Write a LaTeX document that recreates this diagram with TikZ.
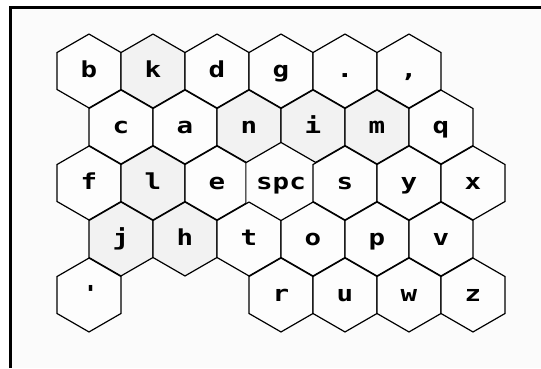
\documentclass[tikz,border=0pt]{standalone}
\usepackage{fontspec}
\newfontfamily\keyfont{DejaVu Sans Mono}[FakeStretch=1.25]
\usetikzlibrary{shapes.geometric}
\definecolor{paper}{HTML}{FBFBFB}
\definecolor{keywhite}{HTML}{FDFDFD}
\definecolor{keygray}{HTML}{F2F2F2}

\begin{document}
\begin{tikzpicture}[x=1pt, y=-1pt,
    key/.style={draw, line width=1.2pt, regular polygon, regular polygon sides=6,
        shape border rotate=30, minimum size=73.9pt, inner sep=0pt, fill=keywhite,
        font=\fontsize{22}{22}\selectfont\keyfont\bfseries, text height=12pt, text depth=0pt},
    hot/.style={key, fill=keygray}
]
\useasboundingbox (0,0) rectangle (541,368);
\fill[white] (0,0) rectangle (541,368);
\fill[paper] (10,7) rectangle (541,368);
\draw[line width=3pt] (10,368) -- (10,7) -- (541,7);

% row 1
\node[key] (b) at (89,71) {b};
\node[hot] (k) at (153,71) {k};
\node[key] (d) at (217,71) {d};
\node[key] (g) at (281,71) {g};
\node[key] (dot) at (345,71) {.};
\node[key] (comma) at (409,71) {,};

% row 2
\node[key] (c) at (121,127) {c};
\node[key] (a) at (185,127) {a};
\node[hot] (n) at (249,127) {n};
\node[hot] (i) at (313,127) {i};
\node[hot] (m) at (377,127) {m};
\node[key] (q) at (441,127) {q};

% row 3
\node[key] (f) at (89,183) {f};
\node[hot] (l) at (153,183) {l};
\node[key] (e) at (217,183) {e};
\node[key] (spc) at (281,183) {spc};
\node[key] (s) at (345,183) {s};
\node[key] (y) at (409,183) {y};
\node[key] (x) at (473,183) {x};

% row 4
\node[hot] (j) at (121,239) {j};
\node[hot] (h) at (185,239) {h};
\node[key] (t) at (249,239) {t};
\node[key] (o) at (313,239) {o};
\node[key] (p) at (377,239) {p};
\node[key] (v) at (441,239) {v};

% row 5
\node[key] (quote) at (89,295) {\textquotesingle};
\node[key] (r) at (281,295) {r};
\node[key] (u) at (345,295) {u};
\node[key] (w) at (409,295) {w};
\node[key] (z) at (473,295) {z};
\end{tikzpicture}
\end{document}
